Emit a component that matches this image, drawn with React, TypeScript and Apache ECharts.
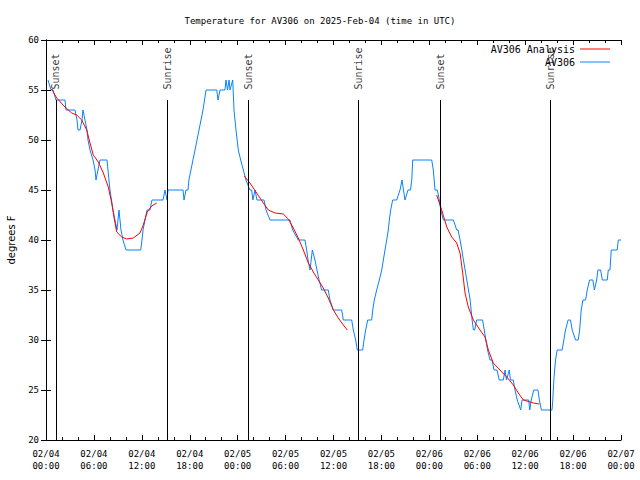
import React, { useEffect, useRef } from 'react';
import * as echarts from 'echarts';

// Observations (hours since 2025-02-04 00:00 UTC, °F)
const obsHours = [
  0.25, 0.63, 0.88, 1.25, 2.38, 2.5, 3.63, 3.88, 4.01, 4.26, 4.51, 4.63, 4.88, 5.13, 5.26, 5.51, 5.89, 6.14, 6.26, 6.51,
  6.76, 7.64, 7.76, 8.01, 8.2, 8.39, 8.64, 8.89, 9.14, 9.39, 9.64, 10.02, 11.86, 12.02, 12.15, 12.4, 12.65, 13.02, 13.27, 14.65,
  14.9, 15.15, 15.28, 17.16, 17.28, 17.53, 17.78, 17.9, 18.15, 18.4, 18.66, 18.91, 19.16, 19.41, 19.66, 19.85, 20.04, 21.38, 21.54, 21.79,
  22.41, 22.54, 22.73, 22.92, 23.04, 23.38, 23.54, 23.79, 24.08, 24.38, 24.71, 25.04, 25.54, 25.75, 25.91, 26.17, 26.42, 27.3, 27.55, 28.05,
  30.55, 30.89, 31.59, 32.43, 32.64, 32.81, 33.06, 33.35, 33.68, 33.93, 34.19, 34.52, 35.35, 35.56, 35.98, 37.03, 37.23, 38.28, 38.48, 38.78,
  38.98, 39.66, 39.82, 40.03, 40.28, 40.78, 40.91, 41.11, 41.41, 41.74, 42.04, 42.24, 42.45, 42.66, 42.86, 42.99, 43.16, 43.41, 43.91, 44.33,
  44.58, 44.95, 45.33, 45.64, 45.8, 45.92, 48.3, 48.5, 48.71, 49.0, 49.25, 49.43, 49.76, 51.01, 51.43, 51.6, 51.85, 52.07, 52.27, 52.48,
  52.69, 52.9, 53.11, 53.23, 53.36, 53.52, 53.68, 53.92, 54.67, 54.88, 55.08, 55.29, 55.6, 55.85, 56.1, 56.47, 56.76, 57.26, 57.48, 57.66,
  58.01, 58.16, 58.51, 58.73, 59.01, 59.44, 59.61, 60.45, 60.57, 60.76, 61.07, 61.6, 61.78, 62.03, 63.36, 63.46, 63.59, 63.8, 64.0, 64.63,
  64.84, 65.05, 65.38, 65.68, 65.89, 66.31, 66.64, 66.82, 67.02, 67.23, 67.57, 67.77, 68.07, 68.48, 68.67, 68.95, 69.11, 69.45, 69.66, 70.28,
  70.41, 70.62, 70.78, 71.53, 71.66, 72.0,
];
const obsTemps = [
  56, 55, 55, 54, 54, 53, 53, 52, 51, 51, 52, 53, 52, 51, 50, 49, 48, 47, 46, 47,
  48, 48, 47, 45, 44, 43, 42, 41, 43, 41, 40, 39, 39, 40, 41, 42, 43, 43, 44, 44,
  45, 44, 45, 45, 44, 45, 45, 46, 47, 48, 49, 50, 51, 52, 53, 54, 55, 55, 54, 55,
  55, 56, 55, 56, 55, 56, 53, 51, 49, 48, 47, 46, 45, 45, 44, 45, 44, 44, 43, 42,
  42, 41, 40, 40, 39, 38, 37, 39, 38, 37, 36, 35, 35, 34, 33, 33, 32, 32, 31, 30,
  29, 29, 30, 31, 32, 32, 33, 34, 35, 36, 37, 38, 39, 40, 41, 42, 43, 44, 44, 45,
  46, 44, 45, 45, 46, 48, 48, 47, 45, 45, 44, 43, 42, 42, 41, 41, 40, 39, 38, 37,
  36, 35, 34, 33, 32, 31, 31, 32, 32, 31, 30, 29, 28, 28, 27, 27, 26, 26, 27, 26,
  27, 26, 26, 25, 24, 23, 24, 24, 23, 24, 25, 25, 24, 23, 23, 24, 26, 28, 29, 29,
  30, 31, 32, 32, 31, 30, 30, 31, 33, 34, 34, 35, 36, 36, 35, 36, 37, 37, 36, 36,
  37, 37, 39, 39, 40, 40,
];

// Analysis, night 1
const ana1Hours = [0.71, 1.34, 2.38, 3.22, 3.84, 4.47, 5.1, 5.51, 5.92, 6.55, 7.18, 7.8, 8.23, 8.51, 8.85, 9.48, 10.11, 10.93, 11.77, 12.18, 12.68, 13.24, 13.86];
const ana1Temps = [55.1, 54.2, 53.3, 52.7, 52.5, 52.0, 51.0, 49.7, 48.5, 47.8, 46.7, 45.3, 43.7, 42.3, 40.8, 40.3, 40.1, 40.2, 40.7, 41.5, 42.8, 43.4, 43.7];
// Analysis, night 2
const ana2Hours = [24.83, 25.54, 26.38, 27.21, 27.84, 28.68, 29.71, 30.34, 30.97, 31.59, 32.22, 32.85, 33.47, 34.1, 34.72, 35.35, 35.98, 36.6, 37.23, 37.73];
const ana2Temps = [46.4, 45.7, 44.7, 43.7, 43.0, 42.7, 42.6, 42.1, 41.2, 40.2, 39.0, 37.7, 36.8, 36.0, 35.2, 34.2, 33.0, 32.2, 31.5, 31.0];
// Analysis, night 3
const ana3Hours = [48.92, 49.55, 50.18, 50.8, 51.43, 51.84, 52.18, 52.47, 52.88, 53.51, 54.35, 54.97, 55.39, 56.01, 56.85, 57.69, 58.52, 59.14, 59.77, 60.61, 61.02, 61.77];
const ana3Temps = [44.5, 43.0, 41.3, 40.3, 39.7, 38.7, 36.7, 34.7, 33.3, 32.0, 31.0, 30.3, 29.0, 27.7, 27.0, 26.3, 25.5, 24.7, 24.0, 23.8, 23.7, 23.6];

// Sun events
const eventHours = [1.25, 15.19, 25.33, 39.1, 49.37, 63.15];
const eventNames = ['Sunset', 'Sunrise', 'Sunset', 'Sunrise', 'Sunset', 'Sunrise'];
const eventLineTop = 54;

const xTickDates = ['02/04', '02/04', '02/04', '02/04', '02/05', '02/05', '02/05', '02/05', '02/06', '02/06', '02/06', '02/06', '02/07'];
const xTickTimes = ['00:00', '06:00', '12:00', '18:00', '00:00', '06:00', '12:00', '18:00', '00:00', '06:00', '12:00', '18:00', '00:00'];

const MONO = '"DejaVu Sans Mono", "Liberation Mono", monospace';

export default function App() {
  const ref = useRef<HTMLDivElement>(null);
  useEffect(() => {
    const chart = echarts.init(ref.current!, null, { renderer: 'svg' });
    const pair = (hs: number[], ts: number[]) => hs.map((h, i) => [h, ts[i]]);
    const tickCommon = {
      axisLine: { show: true, lineStyle: { color: '#000', width: 1 } },
      axisTick: { show: true, inside: true, length: 5, lineStyle: { color: '#000' } },
      splitLine: { show: false },
    };
    const RED = '#ff0000';
    const BLUE = '#0a80ff';
    const anaSeries = [pair(ana1Hours, ana1Temps), pair(ana2Hours, ana2Temps), pair(ana3Hours, ana3Temps)].map((d) => ({
      name: 'AV306 Analysis',
      type: 'line',
      data: d,
      symbol: 'none',
      lineStyle: { color: RED, width: 1 },
      itemStyle: { color: RED },
      z: 3,
    }));
    const legendCommon = {
      right: 30, align: 'right', orient: 'vertical', padding: 0,
      itemWidth: 30, itemHeight: 1, selectedMode: false,
      textStyle: { fontFamily: MONO, fontSize: 10, color: '#000' },
    };
    chart.setOption({
      animation: false,
      backgroundColor: '#fff',
      title: {
        text: 'Temperature for AV306 on 2025-Feb-04 (time in UTC)',
        left: 'center',
        top: 11,
        textStyle: { fontFamily: MONO, fontSize: 9, fontWeight: 'normal', color: '#000' },
      },
      legend: [
        { ...legendCommon, top: 44, data: [{ name: 'AV306 Analysis', icon: 'rect', itemStyle: { color: RED } }] },
        { ...legendCommon, top: 57, data: [{ name: 'AV306', icon: 'rect', itemStyle: { color: BLUE } }] },
      ],
      grid: { left: 46, right: 19, top: 40, bottom: 40, containLabel: false, outerBoundsMode: 'none' },
      xAxis: [
        {
          type: 'value', min: 0, max: 72, interval: 6, position: 'bottom',
          ...tickCommon,
          minorTick: { show: true, splitNumber: 3, length: 3, lineStyle: { color: '#000' } },
          axisLabel: {
            fontFamily: MONO, fontSize: 9, color: '#000', margin: 8, lineHeight: 12,
            formatter: (v: number) => {
              const i = Math.round(v / 6);
              return xTickDates[i] + '\n' + xTickTimes[i];
            },
          },
        },
        {
          type: 'value', min: 0, max: 72, interval: 6, position: 'top',
          ...tickCommon,
          minorTick: { show: true, splitNumber: 3, length: 3, lineStyle: { color: '#000' } },
          axisLabel: { show: false },
        },
      ],
      yAxis: [
        {
          type: 'value', min: 20, max: 60, interval: 5, position: 'left',
          ...tickCommon,
          axisLabel: { fontFamily: MONO, fontSize: 9, color: '#000', margin: 7 },
          name: 'degrees F', nameLocation: 'middle', nameRotate: 90, nameGap: 30,
          nameTextStyle: { fontFamily: '"DejaVu Sans", sans-serif', fontSize: 10, color: '#000' },
        },
        {
          type: 'value', min: 20, max: 60, interval: 5, position: 'right',
          ...tickCommon,
          axisLabel: { show: false },
        },
      ],
      series: [
        ...anaSeries,
        {
          name: 'AV306',
          type: 'line',
          data: pair(obsHours, obsTemps),
          symbol: 'none',
          lineStyle: { color: BLUE, width: 1 },
          itemStyle: { color: BLUE },
          z: 2,
        },
        {
          name: 'events',
          type: 'scatter',
          symbolSize: 1,
          itemStyle: { color: 'rgba(0,0,0,0)' },
          data: eventHours.map((h, i) => ({ value: [h, eventLineTop], name: eventNames[i] })),
          label: {
            show: true,
            formatter: '{b}',
            position: 'top',
            distance: 8,
            rotate: 90,
            align: 'left',
            verticalAlign: 'middle',
            offset: [2, 0],
            fontFamily: MONO,
            fontSize: 10,
            color: '#000',
          },
          markLine: {
            silent: true,
            symbol: ['none', 'none'],
            label: { show: false },
            lineStyle: { color: '#000', type: 'solid', width: 1 },
            data: eventHours.map((h) => [{ coord: [h, 20] }, { coord: [h, eventLineTop] }]),
          },
          z: 4,
        },
      ],
    });
    return () => chart.dispose();
  }, []);
  return (
    <div
      ref={ref}
      style={{ position: 'absolute', left: 0, top: 0, width: 640, height: 480, background: '#fff' }}
    />
  );
}
